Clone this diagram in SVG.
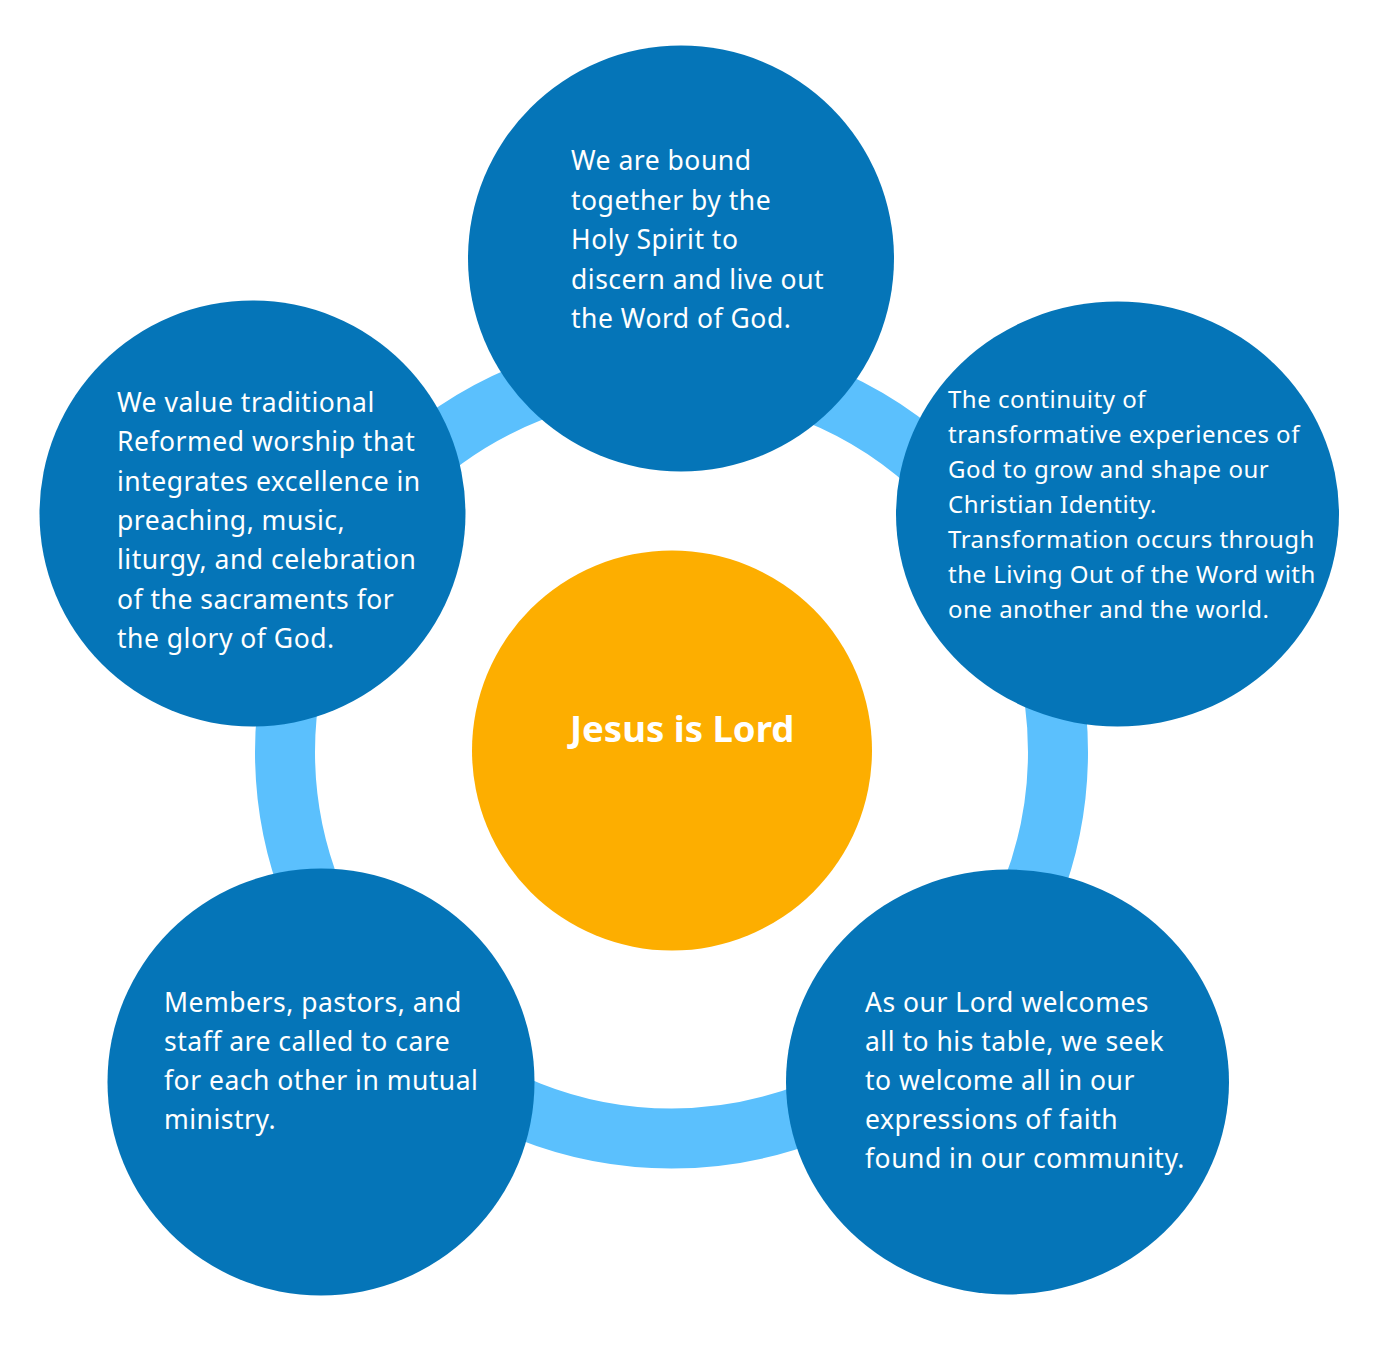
<svg xmlns="http://www.w3.org/2000/svg" width="1378" height="1348" viewBox="0 0 1378 1348">
<style>
.node{fill:#0575b8}
.center{fill:#fdae00}
.ring{fill:none;stroke:#5bc0fd;stroke-width:60}
.t{font-family:"Noto Sans","Lato",sans-serif;font-size:26.5px;letter-spacing:0.5px;fill:#ffffff}
.ts{font-family:"Noto Sans","Lato",sans-serif;font-size:24px;letter-spacing:0.5px;fill:#ffffff}
.tc{font-family:"Noto Sans","Lato",sans-serif;font-size:36.5px;font-weight:700;fill:#ffffff}
</style>
<rect width="1378" height="1348" fill="#ffffff"/>
<g id="connectors">
<circle class="ring" cx="671.5" cy="752" r="386.5"/>
</g>
<g id="node-top">
<circle class="node" cx="681" cy="258.5" r="213"/>
<text class="t"><tspan x="571" y="170">We are bound</tspan><tspan x="571" y="209.5">together by the</tspan><tspan x="571" y="249">Holy Spirit to</tspan><tspan x="571" y="288.5">discern and live out</tspan><tspan x="571" y="328">the Word of God.</tspan></text>
</g>
<g id="node-right">
<ellipse class="node" cx="1117.5" cy="514" rx="221.5" ry="212.5"/>
<text class="ts"><tspan x="948" y="408">The continuity of</tspan><tspan x="948" y="443">transformative experiences of</tspan><tspan x="948" y="478">God to grow and shape our</tspan><tspan x="948" y="513">Christian Identity.</tspan><tspan x="948" y="548">Transformation occurs through</tspan><tspan x="948" y="583">the Living Out of the Word with</tspan><tspan x="948" y="618">one another and the world.</tspan></text>
</g>
<g id="node-left">
<circle class="node" cx="252.5" cy="513.5" r="213"/>
<text class="t"><tspan x="117" y="412">We value traditional</tspan><tspan x="117" y="451.3">Reformed worship that</tspan><tspan x="117" y="490.6">integrates excellence in</tspan><tspan x="117" y="530">preaching, music,</tspan><tspan x="117" y="569.3">liturgy, and celebration</tspan><tspan x="117" y="608.6">of the sacraments for</tspan><tspan x="117" y="648">the glory of God.</tspan></text>
</g>
<g id="node-bottom-left">
<circle class="node" cx="321" cy="1082" r="213.5"/>
<text class="t"><tspan x="164" y="1012">Members, pastors, and</tspan><tspan x="164" y="1051">staff are called to care</tspan><tspan x="164" y="1090">for each other in mutual</tspan><tspan x="164" y="1129">ministry.</tspan></text>
</g>
<g id="node-bottom-right">
<ellipse class="node" cx="1007.5" cy="1082" rx="221.5" ry="212.5"/>
<text class="t"><tspan x="865" y="1012">As our Lord welcomes</tspan><tspan x="865" y="1051">all to his table, we seek</tspan><tspan x="865" y="1090">to welcome all in our</tspan><tspan x="865" y="1129">expressions of faith</tspan><tspan x="865" y="1168">found in our community.</tspan></text>
</g>
<g id="node-center">
<circle class="center" cx="672" cy="750.5" r="200"/>
<text class="tc" x="570" y="742">Jesus is Lord</text>
</g>
</svg>
